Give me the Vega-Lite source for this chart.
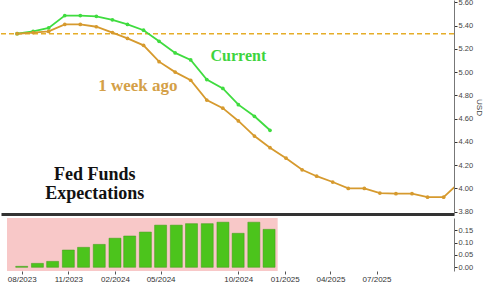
{
  "$schema": "https://vega.github.io/schema/vega-lite/v6.json",
  "padding": {"top": -2, "left": 0, "right": 0, "bottom": 0},
  "background": "white",
  "spacing": 4,
  "bounds": "flush",
  "config": {
    "view": {"stroke": null},
    "font": "Liberation Sans",
    "axis": {"labelFont": "Liberation Sans", "titleFont": "Liberation Sans"}
  },
  "datasets": {
    "lines": [
      {"date": "2023-08-01", "series": "Current", "rate": 5.33},
      {"date": "2023-09-01", "series": "Current", "rate": 5.35},
      {"date": "2023-10-01", "series": "Current", "rate": 5.38},
      {"date": "2023-11-01", "series": "Current", "rate": 5.486},
      {"date": "2023-12-01", "series": "Current", "rate": 5.486},
      {"date": "2024-01-01", "series": "Current", "rate": 5.48},
      {"date": "2024-02-01", "series": "Current", "rate": 5.45},
      {"date": "2024-03-01", "series": "Current", "rate": 5.41},
      {"date": "2024-04-01", "series": "Current", "rate": 5.36},
      {"date": "2024-05-01", "series": "Current", "rate": 5.265},
      {"date": "2024-06-01", "series": "Current", "rate": 5.165},
      {"date": "2024-07-01", "series": "Current", "rate": 5.105},
      {"date": "2024-08-01", "series": "Current", "rate": 4.936},
      {"date": "2024-09-01", "series": "Current", "rate": 4.86},
      {"date": "2024-10-01", "series": "Current", "rate": 4.72},
      {"date": "2024-11-01", "series": "Current", "rate": 4.62},
      {"date": "2024-12-01", "series": "Current", "rate": 4.50},
      {"date": "2023-08-01", "series": "1 week ago", "rate": 5.33},
      {"date": "2023-09-01", "series": "1 week ago", "rate": 5.34},
      {"date": "2023-10-01", "series": "1 week ago", "rate": 5.35},
      {"date": "2023-11-01", "series": "1 week ago", "rate": 5.41},
      {"date": "2023-12-01", "series": "1 week ago", "rate": 5.41},
      {"date": "2024-01-01", "series": "1 week ago", "rate": 5.39},
      {"date": "2024-02-01", "series": "1 week ago", "rate": 5.34},
      {"date": "2024-03-01", "series": "1 week ago", "rate": 5.29},
      {"date": "2024-04-01", "series": "1 week ago", "rate": 5.23},
      {"date": "2024-05-01", "series": "1 week ago", "rate": 5.09},
      {"date": "2024-06-01", "series": "1 week ago", "rate": 5.00},
      {"date": "2024-07-01", "series": "1 week ago", "rate": 4.93},
      {"date": "2024-08-01", "series": "1 week ago", "rate": 4.76},
      {"date": "2024-09-01", "series": "1 week ago", "rate": 4.69},
      {"date": "2024-10-01", "series": "1 week ago", "rate": 4.58},
      {"date": "2024-11-01", "series": "1 week ago", "rate": 4.45},
      {"date": "2024-12-01", "series": "1 week ago", "rate": 4.35},
      {"date": "2025-01-01", "series": "1 week ago", "rate": 4.26},
      {"date": "2025-02-01", "series": "1 week ago", "rate": 4.16},
      {"date": "2025-03-01", "series": "1 week ago", "rate": 4.105},
      {"date": "2025-04-01", "series": "1 week ago", "rate": 4.055},
      {"date": "2025-05-01", "series": "1 week ago", "rate": 4.00},
      {"date": "2025-06-01", "series": "1 week ago", "rate": 4.00},
      {"date": "2025-07-01", "series": "1 week ago", "rate": 3.96},
      {"date": "2025-08-01", "series": "1 week ago", "rate": 3.955},
      {"date": "2025-09-01", "series": "1 week ago", "rate": 3.955},
      {"date": "2025-10-01", "series": "1 week ago", "rate": 3.925},
      {"date": "2025-11-01", "series": "1 week ago", "rate": 3.925},
      {"date": "2025-12-01", "series": "1 week ago", "rate": 4.05}
    ],
    "bars": [
      {"date": "2023-08-01", "diff": 0.004},
      {"date": "2023-09-01", "diff": 0.016},
      {"date": "2023-10-01", "diff": 0.024},
      {"date": "2023-11-01", "diff": 0.070},
      {"date": "2023-12-01", "diff": 0.081},
      {"date": "2024-01-01", "diff": 0.093},
      {"date": "2024-02-01", "diff": 0.118},
      {"date": "2024-03-01", "diff": 0.127},
      {"date": "2024-04-01", "diff": 0.143},
      {"date": "2024-05-01", "diff": 0.171},
      {"date": "2024-06-01", "diff": 0.171},
      {"date": "2024-07-01", "diff": 0.177},
      {"date": "2024-08-01", "diff": 0.177},
      {"date": "2024-09-01", "diff": 0.183},
      {"date": "2024-10-01", "diff": 0.138},
      {"date": "2024-11-01", "diff": 0.183},
      {"date": "2024-12-01", "diff": 0.154}
    ]
  },
  "vconcat": [
    {
      "width": 453,
      "height": 214,
      "encoding": {
        "x": {
          "field": "date", "type": "temporal",
          "scale": {"type": "utc", "domain": [{"year": 2023, "month": 7, "date": 1, "utc": true}, {"year": 2025, "month": 11, "date": 21, "utc": true}]},
          "axis": {"labels": false, "ticks": false, "grid": false, "title": null, "domainColor": "#333333", "domainWidth": 3}
        },
        "y": {
          "field": "rate", "type": "quantitative",
          "scale": {"domain": [3.78, 5.62], "nice": false, "zero": false},
          "axis": {
            "orient": "right", "values": [3.8, 4.0, 4.2, 4.4, 4.6, 4.8, 5.0, 5.2, 5.4, 5.6], "format": ".2f",
            "grid": false, "tickSize": 3, "tickColor": "#333333", "domainColor": "#777777",
            "labelFontSize": 7.5, "labelColor": "#444444", "labelPadding": 1, "labelFlush": false, "labelOverlap": false,
            "title": "USD", "titleFontSize": 8, "titleFontWeight": "normal", "titleColor": "#444444", "titlePadding": 2
          }
        }
      },
      "layer": [
        {
          "data": {"values": [{"rate": 5.33}]},
          "mark": {"type": "rule", "color": "#e6ad28", "strokeDash": [5, 3], "strokeWidth": 1.5},
          "encoding": {"x": null}
        },
        {
          "data": {"name": "lines"},
          "mark": {"type": "line", "strokeWidth": 1.8, "clip": true, "point": {"size": 14, "filled": true}},
          "encoding": {
            "color": {"field": "series", "type": "nominal", "scale": {"domain": ["Current", "1 week ago"], "range": ["#3fdc3f", "#d69a2e"]}, "legend": null},
            "order": {"field": "date", "type": "temporal"},
            "detail": {"field": "series"}
          }
        },
        {
          "data": {"values": [{"date": "2024-10-01", "rate": 5.142, "label": "Current"}]},
          "mark": {"type": "text", "font": "Liberation Serif", "fontWeight": "bold", "fontSize": 16, "color": "#3ed43e", "baseline": "middle"},
          "encoding": {"text": {"field": "label"}}
        },
        {
          "data": {"values": [{"date": "2024-03-21", "rate": 4.884, "label": "1 week ago"}]},
          "mark": {"type": "text", "font": "Liberation Serif", "fontWeight": "bold", "fontSize": 17, "color": "#d4a048", "baseline": "middle"},
          "encoding": {"text": {"field": "label"}}
        },
        {
          "data": {"values": [{"date": "2023-12-29", "rate": 4.116, "label": "Fed Funds\nExpectations"}]},
          "mark": {"type": "text", "font": "Liberation Serif", "fontWeight": "bold", "fontSize": 18, "lineHeight": 19, "lineBreak": "\n", "color": "#111111", "baseline": "middle"},
          "encoding": {"text": {"field": "label"}}
        }
      ]
    },
    {
      "width": 453,
      "height": 53,
      "encoding": {
        "x": {
          "field": "date", "type": "temporal",
          "scale": {"type": "utc", "domain": [{"year": 2023, "month": 7, "date": 1, "utc": true}, {"year": 2025, "month": 11, "date": 21, "utc": true}]},
          "axis": {
            "values": [
              {"year": 2023, "month": 8, "date": 1, "utc": true},
              {"year": 2023, "month": 11, "date": 1, "utc": true},
              {"year": 2024, "month": 2, "date": 1, "utc": true},
              {"year": 2024, "month": 5, "date": 1, "utc": true},
              {"year": 2024, "month": 10, "date": 1, "utc": true},
              {"year": 2025, "month": 1, "date": 1, "utc": true},
              {"year": 2025, "month": 4, "date": 1, "utc": true},
              {"year": 2025, "month": 7, "date": 1, "utc": true}
            ],
            "format": "%m/%Y", "grid": false, "domain": false, "tickSize": 3, "tickColor": "#555555",
            "labelFontSize": 8, "labelColor": "#333333", "labelPadding": 1, "labelFlush": false, "labelOverlap": false, "title": null
          }
        },
        "y": {
          "field": "diff", "type": "quantitative",
          "scale": {"domain": [-0.015, 0.2], "nice": false, "zero": false},
          "axis": {
            "orient": "right", "values": [0, 0.05, 0.1, 0.15], "format": ".2f",
            "grid": false, "tickSize": 3, "tickColor": "#333333", "domainColor": "#777777",
            "labelFontSize": 7.5, "labelColor": "#444444", "labelPadding": 1, "labelFlush": false, "labelOverlap": false, "title": null
          }
        }
      },
      "layer": [
        {
          "data": {"values": [{"start": "2023-07-03", "end": "2024-12-18", "diff": -0.015, "hi": 0.2}]},
          "mark": {"type": "rect", "color": "#f8c8c8"},
          "encoding": {
            "x": {"field": "start", "type": "temporal"},
            "x2": {"field": "end"},
            "y2": {"field": "hi"}
          }
        },
        {
          "data": {"name": "bars"},
          "mark": {"type": "bar", "size": 12, "color": "#4cc41c", "stroke": "#3c9c16", "strokeWidth": 0.5}
        }
      ]
    }
  ]
}
